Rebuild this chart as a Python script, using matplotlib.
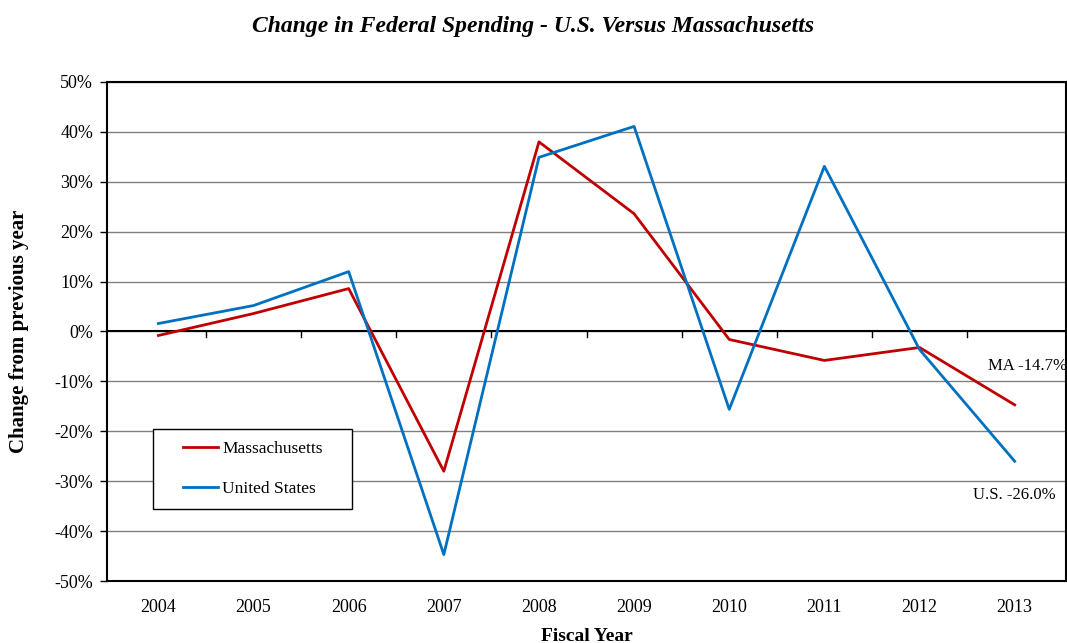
import matplotlib
matplotlib.use("Agg")
import matplotlib.pyplot as plt
from matplotlib.patches import Rectangle
from matplotlib.ticker import FuncFormatter

plt.rcParams['font.family'] = ['Liberation Serif', 'DejaVu Serif']

years = ["2004", "2005", "2006", "2007", "2008", "2009", "2010", "2011", "2012", "2013"]
ma_change = [-0.8, 3.6, 8.6, -28.0, 38.0, 23.6, -1.6, -5.8, -3.2, -14.7]
us_change = [1.6, 5.2, 12.0, -44.7, 34.9, 41.1, -15.6, 33.1, -3.6, -26.0]

fig = plt.figure(figsize=(10.67, 6.43), dpi=100)
ax = fig.add_axes([0.1003, 0.0964, 0.8988, 0.7761])

x = list(range(len(years)))
ax.plot(x, ma_change, color="#C00000", lw=2, label="Massachusetts", zorder=3)
ax.plot(x, us_change, color="#0070C0", lw=2, label="United States", zorder=3)

ax.set_xlim(-0.54, 9.54)
ax.set_ylim(-50, 50)
ax.set_yticks(range(-50, 51, 10))
ax.yaxis.set_major_formatter(FuncFormatter(lambda v, p: "%d%%" % v))
ax.yaxis.grid(True, color="#808080", lw=1)
ax.set_axisbelow(True)
ax.axhline(0, color="black", lw=1.5, zorder=2)

# category labels under the plot, ticks sit on the zero line between categories
ax.set_xticks(x)
ax.set_xticklabels(years)
ax.tick_params(axis="x", length=0, pad=13, labelsize=13)
ax.tick_params(axis="y", direction="out", length=5, width=1, pad=5, labelsize=13)
for i in range(len(years) - 1):
    ax.plot([i + 0.5, i + 0.5], [0, -1.2], color="black", lw=1, clip_on=False, zorder=2)

for side in ["left", "bottom", "top", "right"]:
    ax.spines[side].set_linewidth(1.5)
    ax.spines[side].set_color("black")

ax.set_xlabel("Fiscal Year", fontsize=14, fontweight="bold", labelpad=8.5)
ax.set_ylabel("Change from previous year", fontsize=15, fontweight="bold", labelpad=18)
fig.suptitle("Change in Federal Spending - U.S. Versus Massachusetts",
             fontsize=17, fontweight="bold", style="italic", y=0.975)

ax.text(9.14, -7.0, "MA -14.7%", fontsize=12, ha="center", va="center")
ax.text(9.0, -32.7, "U.S. -26.0%", fontsize=12, ha="center", va="center")

# legend box drawn separately so the padding can be wider than tall
ax.add_patch(Rectangle((0.048, 0.1443), 0.2075, 0.1603, transform=ax.transAxes,
                       facecolor="white", edgecolor="black", lw=1, zorder=4))
leg = ax.legend(loc="center left", bbox_to_anchor=(0.0793, 0.2244), fontsize=12.5,
                frameon=False, handlelength=2.0, handletextpad=0.25,
                labelspacing=1.35, borderpad=0, borderaxespad=0)
leg.set_zorder(5)

fig.savefig("out.png", dpi=100)
